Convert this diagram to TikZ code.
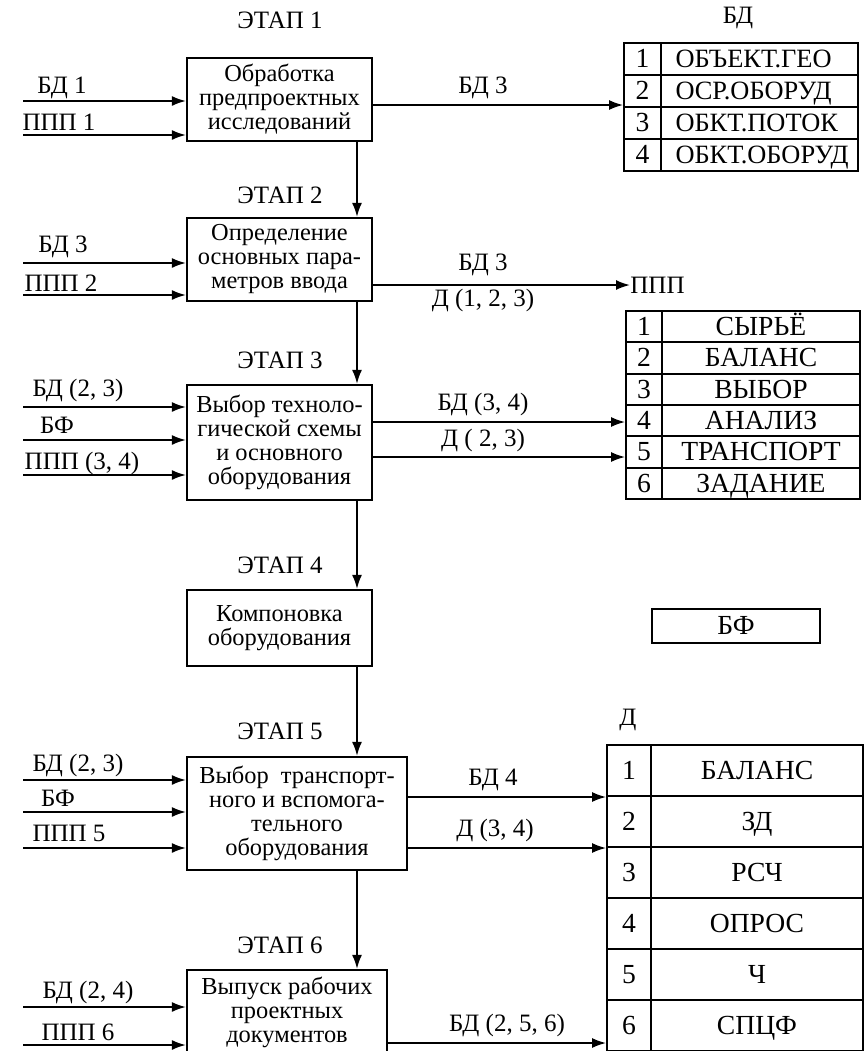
\documentclass[tikz,border=0pt]{standalone}
\usepackage{fontspec}
\setmainfont{Liberation Serif}
\usetikzlibrary{arrows.meta,positioning}
\tikzset{
  stagebox/.style={draw,line width=1.1pt,align=center,inner sep=1pt,font=\fontsize{12.2}{12}\selectfont},
  flow/.style={-{Latex[length=7pt,width=5pt]},line width=0.9pt},
  lbl/.style={inner sep=0pt,font=\fontsize{12.5}{13}\selectfont},
  cell/.style={draw,line width=0.9pt,inner sep=0pt,text height=9.4pt,text depth=0.6pt,font=\fontsize{13.8}{13}\selectfont},
}

\begin{document}
\begin{tikzpicture}[x=0.5pt,y=-0.5pt,line cap=butt]
  \clip (0,0) rectangle (864,1051);
  \useasboundingbox (0,0) rectangle (864,1051);
  \fill[white] (0,0) rectangle (864,1051);

  \node[stagebox,minimum width=92.5pt,minimum height=41.5pt] (st1) at (279.5,99.5) {Обработка\\предпроектных\\исследований};
  \node[stagebox,minimum width=92.5pt,minimum height=41.5pt] (st2) at (279.5,259.5) {Определение\\основных пара-\\метров ввода};
  \node[stagebox,minimum width=92.5pt,minimum height=57.5pt] (st3) at (279.5,442.5) {Выбор техноло-\\гической схемы\\и основного\\оборудования};
  \node[stagebox,minimum width=92.5pt,minimum height=38pt] (st4) at (279.5,628) {Компоновка\\оборудования};
  \node[stagebox,minimum width=110pt,minimum height=56.5pt] (st5) at (297,813.5) {Выбор\ \ транспорт-\\ного и вспомога-\\тельного\\оборудования};
  \node[stagebox,minimum width=100pt,minimum height=42pt] (st6) at (287,1012) {Выпуск рабочих\\проектных\\документов};

  \foreach \i/\y in {1/20,2/195,3/360,4/565,5/731,6/945}
    \node[lbl] (et\i) at (280,\y) {ЭТАП \i};

  \coordinate (axis) at (357,0);
  \foreach \a/\b in {st1/st2,st2/st3,st3/st4,st4/st5,st5/st6}
    \draw[flow] (\a.south -| axis) -- (\b.north -| axis);

  \foreach \t/\lx/\ly/\ay/\s [count=\i] in {
      БД 1/62/88/101/st1, ППП 1/59/122/135/st1,
      БД 3/63/247/263/st2, ППП 2/61/283/295/st2,
      {БД (2, 3)}/78/390/407/st3, БФ/57/425/440/st3, {ППП (3, 4)}/82/463/475/st3,
      {БД (2, 3)}/78/765/780/st5, БФ/58/798/812/st5, ППП 5/69/833/848/st5,
      {БД (2, 4)}/88/992/1007/st6, ППП 6/78/1032/1045/st6} {
    \node[lbl] (inl\i) at (\lx,\ly) {\t};
    \coordinate (in\i) at (23,\ay);
    \draw[flow] (in\i) -- (in\i -| \s.west);
  }

  \node[lbl] (tAh) at (738,18) {БД};
  \foreach \t [count=\i, evaluate=\i as \y using 59+32*(\i-1)] in {ОБЪЕКТ.ГЕО,ОСР.ОБОРУД,ОБКТ.ПОТОК,ОБКТ.ОБОРУД} {
    \node[cell,minimum width=18.5pt,minimum height=16pt] (tA\i) at (642.5,\y) {\i};
    \node[cell,minimum width=98.5pt,minimum height=16pt,text width=84pt,align=left,font=\fontsize{13.2}{13}\selectfont] (tAt\i) at (759.5,\y) {\t};
  }

  \foreach \t [count=\i, evaluate=\i as \y using 326.67+31.33*(\i-1)] in {СЫРЬЁ,БАЛАНС,ВЫБОР,АНАЛИЗ,ТРАНСПОРТ,ЗАДАНИЕ} {
    \node[cell,minimum width=18pt,minimum height=15.67pt] (tB\i) at (644,\y) {\i};
    \node[cell,minimum width=99pt,minimum height=15.67pt] (tBt\i) at (761,\y) {\t};
  }

  \node[lbl] (tCh) at (628,720) {Д};
  \foreach \t [count=\i, evaluate=\i as \y using 770.5+51*(\i-1)] in {БАЛАНС,ЗД,РСЧ,ОПРОС,Ч,СПЦФ} {
    \node[cell,minimum width=22pt,minimum height=25.5pt] (tC\i) at (629,\y) {\i};
    \node[cell,minimum width=106pt,minimum height=25.5pt] (tCt\i) at (757,\y) {\t};
  }

  \node[cell,minimum width=84pt,minimum height=17pt] (bf) at (736,626) {БФ};
  \node[lbl,anchor=west] (ppp) at (630,285) {ППП};

  \coordinate (o1) at (0,105);
  \draw[flow] (o1 -| st1.east) -- (o1 -| tA1.west);
  \node[lbl] (ol1) at (483,88) {БД 3};

  \coordinate (o2) at (0,285);
  \draw[flow] (o2 -| st2.east) -- (ppp.west);
  \node[lbl] (ol2) at (483,265) {БД 3};
  \node[lbl] (ol3) at (483,300) {Д (1, 2, 3)};

  \coordinate (o3) at (0,422);
  \coordinate (o4) at (0,457);
  \draw[flow] (o3 -| st3.east) -- (o3 -| tB1.west);
  \draw[flow] (o4 -| st3.east) -- (o4 -| tB1.west);
  \node[lbl] (ol4) at (483,404) {БД (3, 4)};
  \node[lbl] (ol5) at (483,440) {Д ( 2, 3)};

  \coordinate (o5) at (0,797);
  \coordinate (o6) at (0,848);
  \draw[flow] (o5 -| st5.east) -- (o5 -| tC1.west);
  \draw[flow] (o6 -| st5.east) -- (o6 -| tC1.west);
  \node[lbl] (ol6) at (493,780) {БД 4};
  \node[lbl] (ol7) at (495,830) {Д (3, 4)};

  \coordinate (o7) at (0,1043);
  \draw[flow] (o7 -| st6.east) -- (o7 -| tC1.west);
  \node[lbl] (ol8) at (507,1025) {БД (2, 5, 6)};
\end{tikzpicture}
\end{document}
